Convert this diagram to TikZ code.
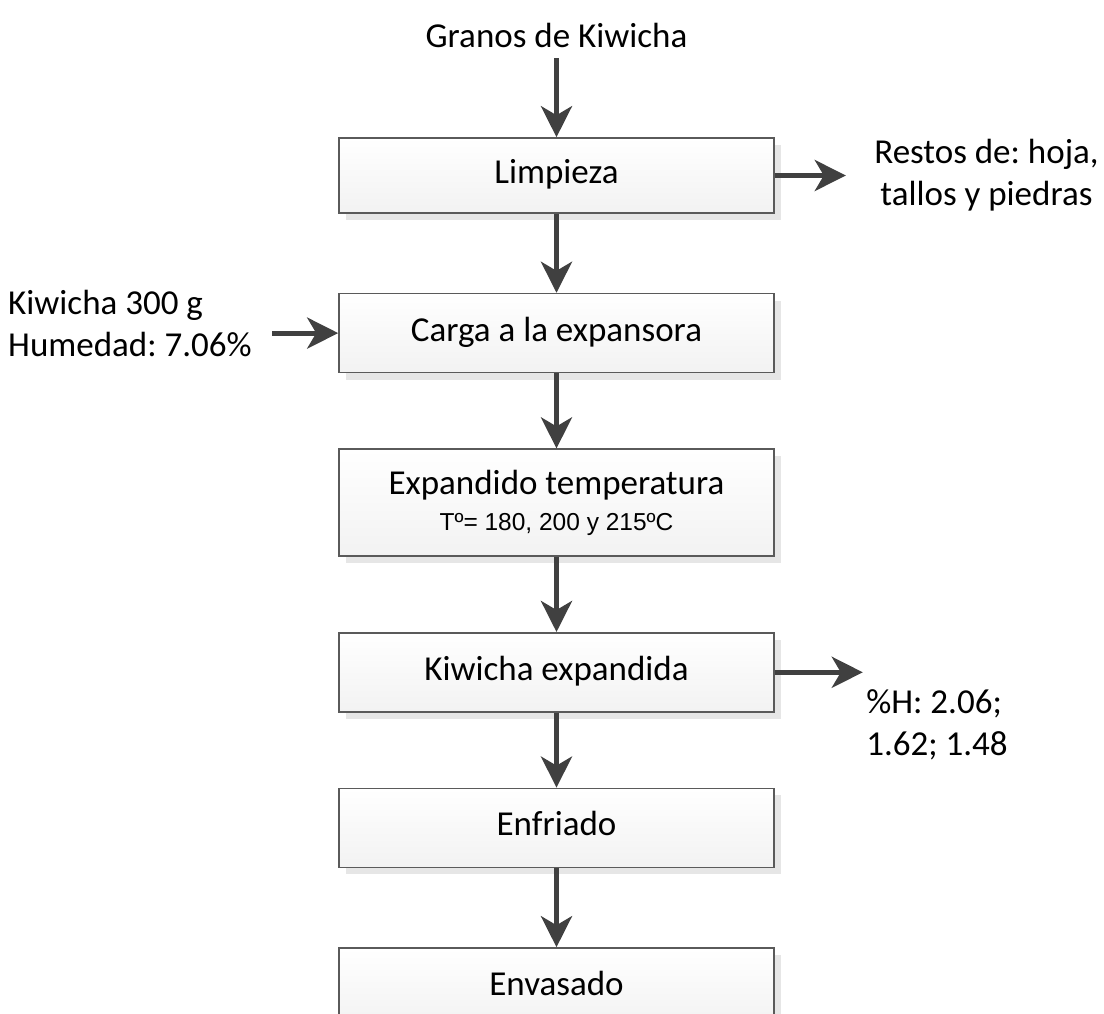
\documentclass[tikz,border=0pt]{standalone}
\usepackage{fontspec}
\setmainfont{Carlito}
\newfontfamily\arialfont{Liberation Sans}
\usetikzlibrary{positioning,arrows.meta,shadows}
\frenchspacing

\definecolor{arrowgray}{HTML}{404040}
\definecolor{boxline}{HTML}{5A5A5A}
\definecolor{boxbottom}{HTML}{F2F2F2}
\definecolor{shadowgray}{HTML}{E6E6E6}

\tikzset{
  stepbox/.style={draw=boxline, line width=1.6pt, top color=white, bottom color=boxbottom,
    minimum width=435pt, minimum height=79pt, align=center, text height=24pt, text depth=8pt,
    drop shadow={shadow xshift=7pt, shadow yshift=-7pt, fill=shadowgray, draw=none, opacity=1}},
  flow/.style={arrowgray, line width=5pt, -{Stealth[length=31pt, width=31pt, inset=9pt]}},
  textnote/.style={align=left},
}

\begin{document}
\begin{tikzpicture}[x=1pt, y=-1pt, font=\fontsize{35}{42}\selectfont, node distance=75pt]
\useasboundingbox (0,0) rectangle (1104,1014);

% main column
\node[stepbox, minimum height=75pt] (limpieza) at (556.5,175.5) {Limpieza};
\node[stepbox, below=79pt of limpieza] (carga) {Carga a la expansora};
\node[stepbox, below=of carga, minimum height=107pt, text height=, text depth=] (temperatura)
  {Expandido temperatura\\[-6pt]{\arialfont\fontsize{24.5}{28}\selectfont Tº= 180, 200 y 215ºC}};
\node[stepbox, below=of temperatura] (expandida) {Kiwicha expandida};
\node[stepbox, below=of expandida] (enfriado) {Enfriado};
\node[stepbox, below=79pt of enfriado] (envasado) {Envasado};

% inputs and outputs
\node[above=86pt of limpieza] (granos) {Granos de Kiwicha};
\node[align=center, right=96pt of limpieza] (restos) {Restos de: hoja,\\tallos y piedras};
\node[textnote, left=83pt of carga, yshift=10pt] (kiwi) {Kiwicha 300 g\\Humedad: 7.06\%};
\coordinate[right=88pt of expandida.east] (hout);
\node[textnote, below right=14pt and 0pt of hout] (humedad) {\%H: 2.06;\\1.62; 1.48};

% connectors
\draw[flow, shorten <=7pt] (granos) -- (limpieza);
\foreach \a/\b in {limpieza/carga, carga/temperatura, temperatura/expandida, expandida/enfriado, enfriado/envasado}
  \draw[flow] (\a) -- (\b);
\draw[flow, shorten >=25pt] (limpieza) -- (restos);
\draw[flow, shorten <=17pt] (kiwi.east |- carga) -- (carga);
\draw[flow] (expandida) -- (hout);
\end{tikzpicture}
\end{document}
